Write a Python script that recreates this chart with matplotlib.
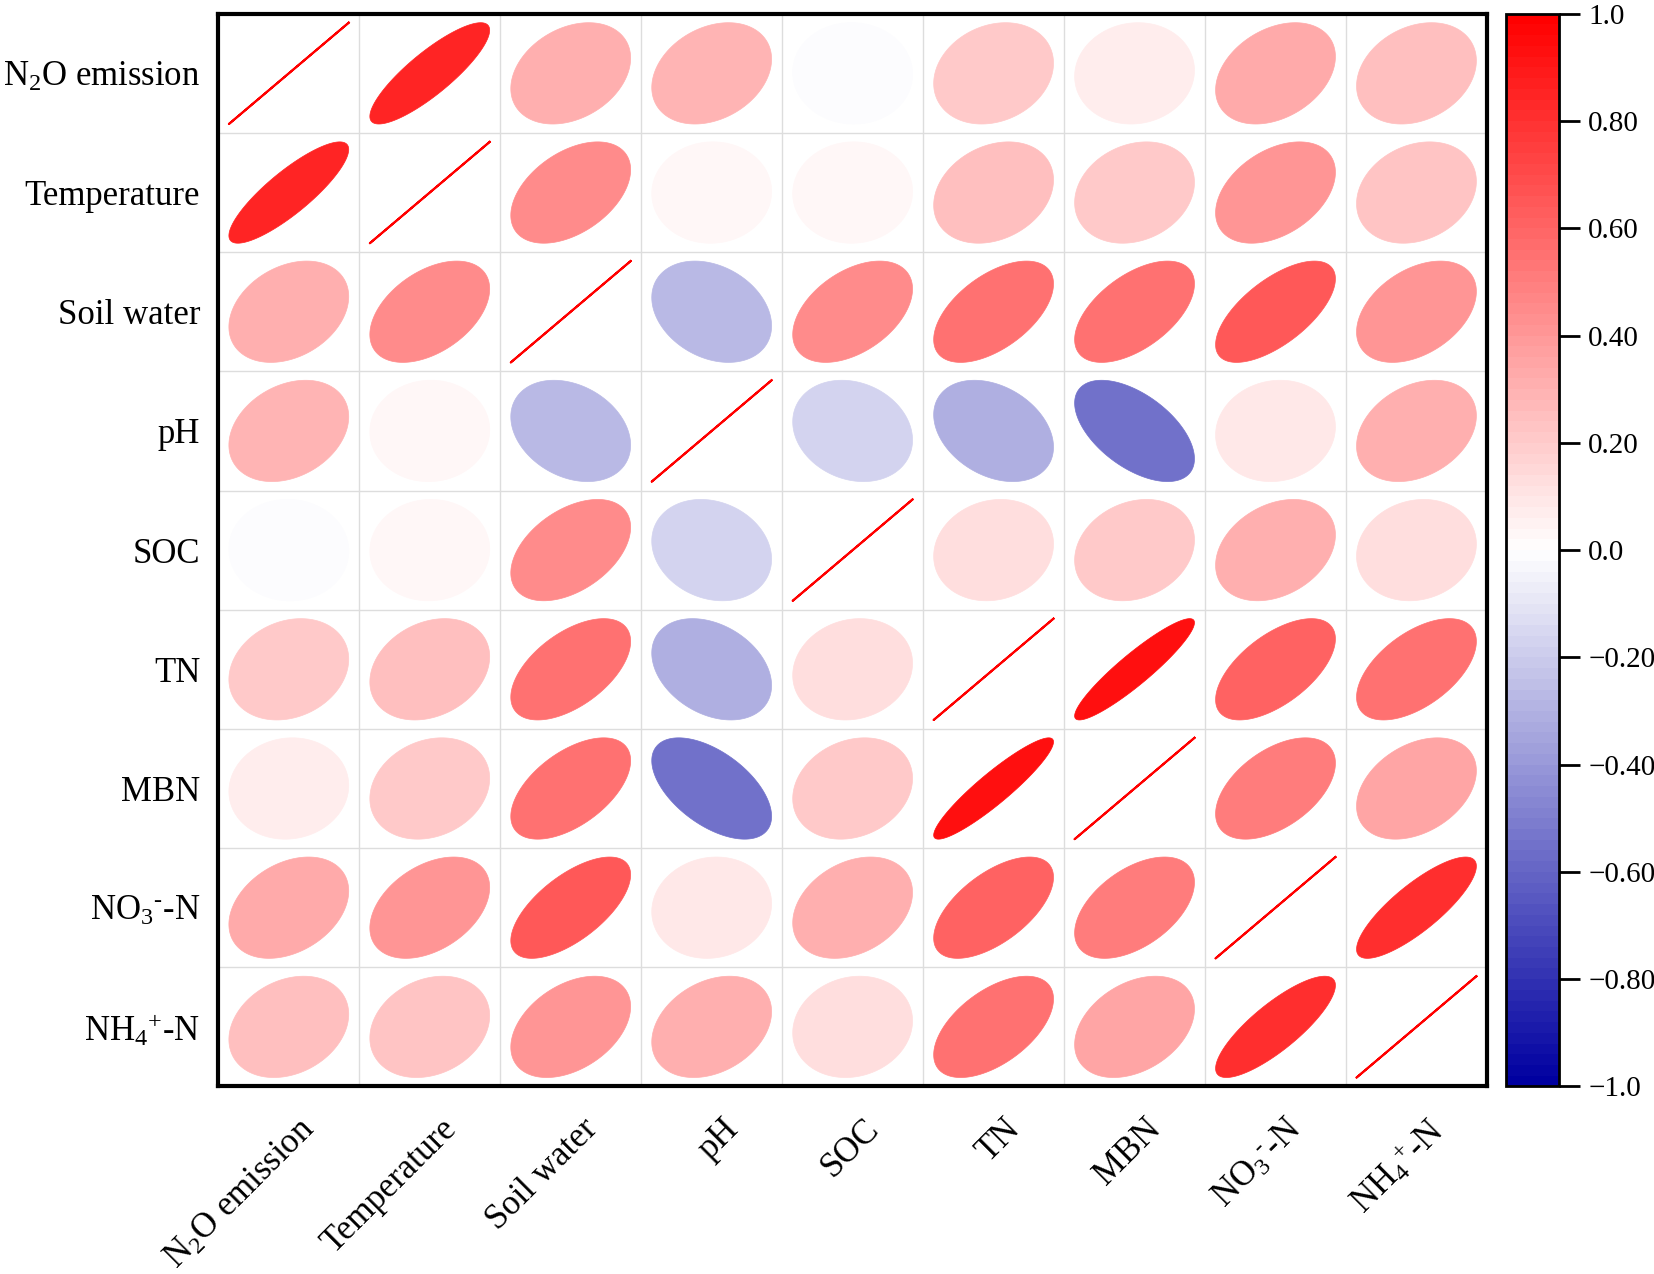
import numpy as np
import matplotlib
matplotlib.use('Agg')
import matplotlib.pyplot as plt
import matplotlib.transforms as mtransforms
from matplotlib.colors import LinearSegmentedColormap, Normalize
from matplotlib.cm import ScalarMappable

plt.rcParams['font.family'] = 'Liberation Serif'
plt.rcParams['mathtext.fontset'] = 'custom'
plt.rcParams['mathtext.rm'] = 'Liberation Serif'
plt.rcParams['mathtext.it'] = 'Liberation Serif:italic'

labels = [r'N$_2$O emission', 'Temperature', 'Soil water', 'pH', 'SOC', 'TN', 'MBN',
          r'NO$_3$$^{\text{-}}$-N', r'NH$_4$$^{+}$-N']

# correlation matrix
corr = np.array([
    [1.00, 0.85, 0.30, 0.28, -0.02, 0.20, 0.06, 0.33, 0.25],
    [0.85, 1.00, 0.45, 0.02, 0.02, 0.25, 0.20, 0.40, 0.22],
    [0.30, 0.45, 1.00, -0.28, 0.45, 0.55, 0.55, 0.65, 0.40],
    [0.28, 0.02, -0.28, 1.00, -0.18, -0.32, -0.55, 0.08, 0.30],
    [-0.02, 0.02, 0.45, -0.18, 1.00, 0.12, 0.20, 0.30, 0.12],
    [0.20, 0.25, 0.55, -0.32, 0.12, 1.00, 0.92, 0.60, 0.55],
    [0.06, 0.20, 0.55, -0.55, 0.20, 0.92, 1.00, 0.50, 0.35],
    [0.33, 0.40, 0.65, 0.08, 0.30, 0.60, 0.50, 1.00, 0.82],
    [0.25, 0.22, 0.40, 0.30, 0.12, 0.55, 0.35, 0.82, 1.00],
])
cbar_ticks = [-1.0, -0.8, -0.6, -0.4, -0.2, 0.0, 0.2, 0.4, 0.6, 0.8, 1.0]
cbar_ticklabels = ['\u22121.0', '\u22120.80', '\u22120.60', '\u22120.40', '\u22120.20', '0.0',
                   '0.20', '0.40', '0.60', '0.80', '1.0']

cmap = LinearSegmentedColormap.from_list('bwr2', ['#0000A0', '#FFFFFF', '#FF0000'], N=100)
norm = Normalize(-1, 1)

fig = plt.figure(figsize=(16.54, 12.74), dpi=100)
ax = fig.add_axes([0.132, 0.1472, 0.767, 0.842])
cax = fig.add_axes([0.9105, 0.1472, 0.032, 0.842])

n = len(labels)
s = 0.425
t = np.linspace(0, 2*np.pi, 200)
for i in range(n):
    for j in range(n):
        r = corr[i, j]
        d = np.arccos(np.clip(r, -1, 1))
        xs = j + 0.5 + s*np.cos(t + d/2)
        ys = i + 0.5 - s*np.cos(t - d/2)
        c = cmap(norm(r))
        if i == j:
            ax.plot(xs, ys, color=c, lw=1.5, zorder=3)
        else:
            ax.fill(xs, ys, facecolor=c, edgecolor=c, lw=0.5, zorder=3)

for k in range(1, n):
    ax.axhline(k, color='#DDDDDD', lw=1, zorder=1)
    ax.axvline(k, color='#DDDDDD', lw=1, zorder=1)

ax.set_xlim(0, n)
ax.set_ylim(n, 0)
ax.set_xticks(np.arange(n) + 0.5)
ax.set_yticks(np.arange(n) + 0.5)
ax.set_yticklabels(labels, fontsize=25)
ax.set_xticklabels(labels, fontsize=25, rotation=45, ha='right', va='top', rotation_mode='anchor')
ax.tick_params(length=0)
ax.tick_params(axis='y', pad=13)
ax.tick_params(axis='x', pad=19)
shift = mtransforms.ScaledTranslation(10/100, 0, fig.dpi_scale_trans)
for lab in ax.get_xticklabels():
    lab.set_transform(lab.get_transform() + shift)
for sp in ax.spines.values():
    sp.set_linewidth(3)

cb = fig.colorbar(ScalarMappable(norm=norm, cmap=cmap), cax=cax, ticks=cbar_ticks)
cb.ax.set_yticklabels(cbar_ticklabels, fontsize=21)
cb.ax.tick_params(length=15, width=2, pad=6)
cb.outline.set_linewidth(2)

fig.savefig('out.png', dpi=100)
